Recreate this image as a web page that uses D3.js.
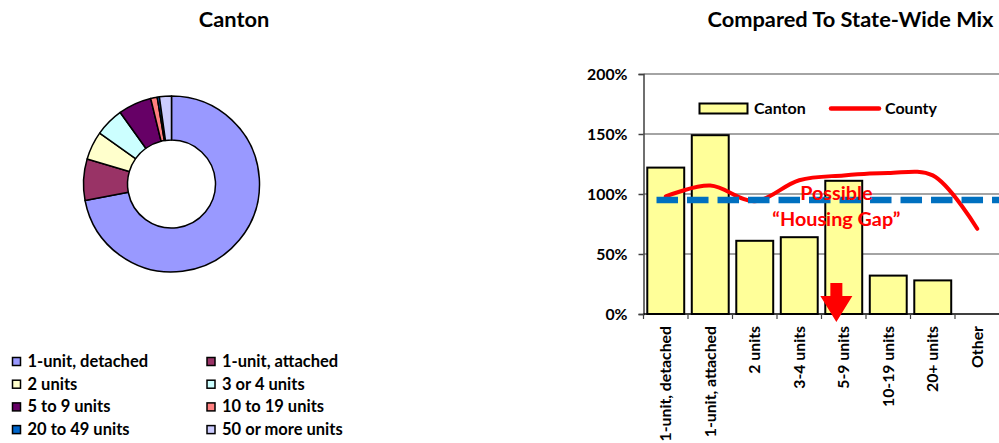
<!DOCTYPE html>
<html>
<head>
<meta charset="utf-8">
<script src="https://cdn.jsdelivr.net/npm/d3@7"></script>
<style>
  body { margin: 0; background: #fff; }
  svg { display: block; font-family: Lato, "Open Sans", sans-serif; font-weight: bold; }
</style>
</head>
<body>
<div id="wrapper"></div>
<script>
/* DATA */
const unitTypes = ['1-unit, detached', '1-unit, attached', '2 units', '3 or 4 units',
  '5 to 9 units', '10 to 19 units', '20 to 49 units', '50 or more units'];
const unitShares = [72, 7.6, 5.2, 5.3, 6.1, 1.2, 0.4, 2.2];
const unitColors = ['#9999FF', '#993366', '#FFFFCC', '#CCFFFF', '#660066', '#FF8080', '#0066CC', '#CCCCFF'];

const mixCategories = ['1-unit, detached', '1-unit, attached', '2 units', '3-4 units',
  '5-9 units', '10-19 units', '20+ units', 'Other'];
const cantonRatio = [122, 149, 61, 64, 111, 32, 28, null];
const countyRatio = [98, 107, 94, 111.5, 115.5, 117.5, 115.5, 71];
const stateLevel = 95;
const yTicks = [0, 50, 100, 150, 200];

function drawCharts() {
  const dimensions = { width: 999, height: 443 };

  const wrapper = d3.select('#wrapper')
    .append('svg')
    .attr('width', dimensions.width)
    .attr('height', dimensions.height)
    .attr('viewBox', [0, 0, dimensions.width, dimensions.height]);

  /* TITLES */
  wrapper.append('text')
    .attr('x', 234).attr('y', 27)
    .attr('text-anchor', 'middle')
    .attr('font-size', 21.8)
    .text('Canton');

  wrapper.append('text')
    .attr('x', 850.5).attr('y', 27)
    .attr('text-anchor', 'middle')
    .attr('font-size', 21.8)
    .text('Compared To State-Wide Mix');

  /* DONUT */
  const pie = d3.pie().sort(null).value(d => d);
  const arc = d3.arc().innerRadius(44).outerRadius(88);

  const donut = wrapper.append('g')
    .attr('transform', 'translate(171.5 184)');

  donut.selectAll('path')
    .data(pie(unitShares))
    .enter()
    .append('path')
    .attr('d', arc)
    .attr('fill', (d, i) => unitColors[i])
    .attr('stroke', '#000')
    .attr('stroke-width', 1.5)
    .attr('stroke-linejoin', 'round');

  const legend = wrapper.append('g')
    .attr('transform', 'translate(12.5 357.5)');

  const legendItems = legend.selectAll('g')
    .data(unitTypes)
    .enter()
    .append('g')
    .attr('transform', (d, i) => `translate(${(i % 2) * 194.5} ${Math.floor(i / 2) * 22.7})`);

  legendItems.append('rect')
    .attr('width', 8).attr('height', 8)
    .attr('fill', (d, i) => unitColors[i])
    .attr('stroke', '#000')
    .attr('stroke-width', 1.5);

  legendItems.append('text')
    .attr('x', 15).attr('y', 9.5)
    .attr('font-size', 16.5)
    .text(d => d);

  /* BAR CHART */
  const plot = { left: 643.5, right: 999.5, top: 74, bottom: 314 };

  const xScale = d3.scaleBand()
    .domain(mixCategories)
    .range([plot.left, plot.right])
    .paddingInner(0.17)
    .paddingOuter(0.085);

  const yScale = d3.scaleLinear()
    .domain([0, 200])
    .range([plot.bottom, plot.top]);

  const bars = wrapper.append('g');

  // gridlines
  bars.append('g')
    .selectAll('line')
    .data(yTicks.filter(d => d > 0))
    .enter()
    .append('line')
    .attr('x1', plot.left).attr('x2', plot.right)
    .attr('y1', d => yScale(d)).attr('y2', d => yScale(d))
    .attr('stroke', '#868686')
    .attr('stroke-width', 1.5);

  bars.append('g')
    .selectAll('rect')
    .data(mixCategories.filter((d, i) => cantonRatio[i] != null))
    .enter()
    .append('rect')
    .attr('x', d => xScale(d))
    .attr('width', xScale.bandwidth())
    .attr('y', (d, i) => yScale(cantonRatio[i]))
    .attr('height', (d, i) => yScale(0) - yScale(cantonRatio[i]))
    .attr('fill', '#FFFF99')
    .attr('stroke', '#000')
    .attr('stroke-width', 2);

  // county line
  const countyLine = d3.line()
    .x((d, i) => xScale(mixCategories[i]) + xScale.bandwidth() / 2)
    .y(d => yScale(d))
    .curve(d3.curveCatmullRom.alpha(0.5));

  bars.append('path')
    .attr('d', countyLine(countyRatio))
    .attr('fill', 'none')
    .attr('stroke', '#FF0000')
    .attr('stroke-width', 4)
    .attr('stroke-linecap', 'round');

  // state-wide reference
  bars.append('line')
    .attr('x1', xScale(mixCategories[0]) + xScale.bandwidth() / 4)
    .attr('x2', plot.right + 20)
    .attr('y1', yScale(stateLevel)).attr('y2', yScale(stateLevel))
    .attr('stroke', '#0070C0')
    .attr('stroke-width', 6.5)
    .attr('stroke-dasharray', '21.5 9');

  // axes
  const yAxis = d3.axisLeft(yScale)
    .tickValues(yTicks)
    .tickFormat(d => d + '%')
    .tickSizeOuter(0)
    .tickSize(5)
    .tickPadding(11);

  const yAxisGroup = wrapper.append('g')
    .attr('transform', `translate(${plot.left} 0)`)
    .call(yAxis);
  yAxisGroup.attr('font-family', null).attr('font-size', 15.8);
  yAxisGroup.selectAll('line, path').attr('stroke', '#404040').attr('stroke-width', 1.5);
  yAxisGroup.selectAll('text').attr('fill', '#000');

  const xAxisGroup = wrapper.append('g');
  xAxisGroup.append('line')
    .attr('x1', plot.left).attr('x2', plot.right)
    .attr('y1', plot.bottom).attr('y2', plot.bottom)
    .attr('stroke', '#000')
    .attr('stroke-width', 1.5);

  const step = xScale.step();
  xAxisGroup.selectAll('line.tick')
    .data(mixCategories)
    .enter()
    .append('line')
    .attr('class', 'tick')
    .attr('x1', d => xScale(d) - step * xScale.paddingInner() / 2)
    .attr('x2', d => xScale(d) - step * xScale.paddingInner() / 2)
    .attr('y1', plot.bottom).attr('y2', plot.bottom + 5)
    .attr('stroke', '#404040')
    .attr('stroke-width', 1.2);

  xAxisGroup.selectAll('text')
    .data(mixCategories)
    .enter()
    .append('text')
    .attr('transform', d => `translate(${xScale(d) + xScale.bandwidth() / 2} ${plot.bottom + 12}) rotate(-90)`)
    .attr('dy', '0.35em')
    .attr('text-anchor', 'end')
    .attr('font-size', 15.8)
    .text(d => d);

  /* BAR LEGEND */
  const barLegend = wrapper.append('g').attr('font-size', 16);
  barLegend.append('rect')
    .attr('x', 699.5).attr('y', 103.5)
    .attr('width', 48).attr('height', 10)
    .attr('fill', '#FFFF99')
    .attr('stroke', '#000')
    .attr('stroke-width', 2);
  barLegend.append('text').attr('x', 754).attr('y', 114).text('Canton');
  barLegend.append('line')
    .attr('x1', 831).attr('x2', 879)
    .attr('y1', 108.5).attr('y2', 108.5)
    .attr('stroke', '#FF0000')
    .attr('stroke-width', 4.5)
    .attr('stroke-linecap', 'round');
  barLegend.append('text').attr('x', 885).attr('y', 114).text('County');

  /* ANNOTATION */
  const gapX = xScale('5-9 units') + xScale.bandwidth() * 0.3;
  const note = wrapper.append('g')
    .attr('fill', '#FF0000')
    .attr('text-anchor', 'middle')
    .attr('font-size', 19.8);
  note.append('text').attr('x', gapX).attr('y', 200).text('Possible');
  note.append('text').attr('x', gapX).attr('y', 226).text('\u201CHousing Gap\u201D');

  const arrowPts = [[-6, -39], [6, -39], [6, -26], [16, -26], [0, 0], [-16, -26], [-6, -26]];
  wrapper.append('path')
    .attr('transform', `translate(${gapX} ${plot.bottom + 8})`)
    .attr('d', d3.line()(arrowPts) + 'Z')
    .attr('fill', '#FF0000');
}

drawCharts();
</script>
</body>
</html>
